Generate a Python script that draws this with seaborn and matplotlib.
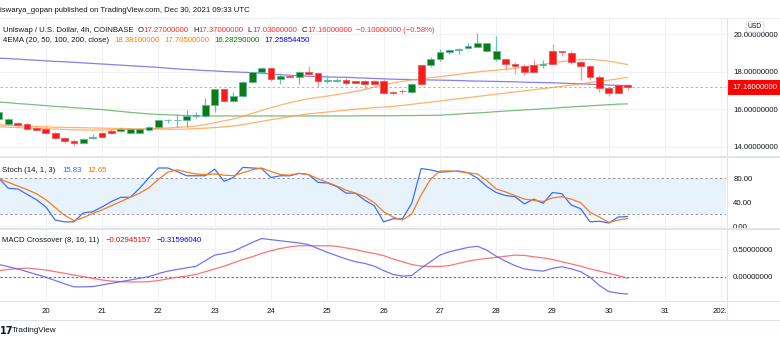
import numpy as np
import pandas as pd
import matplotlib
matplotlib.use("Agg")
import matplotlib.pyplot as plt
import matplotlib.dates as mdates
from matplotlib.lines import Line2D
from matplotlib.patches import Rectangle
from matplotlib.transforms import Bbox
import seaborn as sns

# ---------------- data ----------------
candle_times = pd.date_range("2021-12-19 04:00", periods=68, freq="4h")

open_ = [15.48, 15.21, 15.25, 15.21, 14.98, 14.96, 14.75, 14.48, 14.30, 14.18,
         14.45, 14.71, 14.85, 14.84, 14.75, 14.75, 14.89, 15.07, 15.40, 15.41,
         15.42, 15.63, 15.64, 16.22, 17.06, 16.45, 16.70, 17.47, 17.97, 18.18,
         17.59, 17.77, 17.73, 18.00, 17.91, 17.50, 17.50, 17.56, 17.49, 17.50,
         17.50, 17.52, 16.93, 16.98, 16.93, 18.36, 18.34, 18.66, 19.07, 19.16,
         19.25, 19.33, 19.10, 18.66, 18.66, 18.41, 18.30, 18.37, 18.38, 19.10,
         19.10, 19.01, 18.53, 18.30, 17.73, 17.15, 17.29, 17.27]
high = [15.95, 15.52, 15.32, 15.24, 15.08, 15.10, 14.80, 14.50, 14.39, 14.48,
        14.70, 14.78, 14.95, 15.05, 15.02, 14.98, 15.10, 15.45, 15.50, 15.75,
        15.96, 15.87, 16.58, 17.10, 17.10, 16.90, 17.50, 18.00, 18.25, 18.25,
        17.95, 17.80, 18.05, 18.32, 17.95, 17.80, 17.65, 17.65, 17.52, 17.56,
        17.58, 17.62, 16.98, 17.10, 17.40, 18.38, 18.80, 19.20, 19.20, 19.26,
        19.55, 20.05, 19.55, 19.90, 18.66, 18.52, 18.42, 18.70, 18.62, 19.50,
        19.13, 19.10, 18.55, 18.35, 17.85, 17.20, 17.34, 17.37]
low = [15.45, 15.18, 15.05, 14.90, 14.83, 14.72, 14.40, 14.20, 14.04, 14.15,
       14.40, 14.50, 14.68, 14.80, 14.70, 14.72, 14.85, 14.98, 15.28, 15.05,
       15.05, 15.52, 15.60, 15.85, 16.40, 16.40, 16.65, 17.40, 17.90, 17.52,
       17.35, 17.68, 17.35, 17.85, 17.20, 17.40, 17.45, 17.30, 17.38, 17.10,
       17.30, 16.80, 16.78, 16.80, 16.88, 17.30, 18.25, 18.55, 18.95, 18.95,
       19.22, 19.30, 19.05, 18.55, 18.09, 17.89, 17.82, 17.95, 18.20, 18.39,
       18.86, 18.40, 17.56, 17.56, 16.90, 16.72, 16.85, 17.03]
close = [15.87, 15.48, 15.15, 14.93, 14.91, 14.75, 14.48, 14.32, 14.18, 14.43,
         14.52, 14.53, 14.71, 14.94, 14.93, 14.93, 15.07, 15.42, 15.42, 15.43,
         15.64, 15.65, 16.22, 17.06, 16.45, 16.70, 17.47, 17.97, 18.18, 17.59,
         17.77, 17.72, 18.00, 17.89, 17.50, 17.52, 17.52, 17.41, 17.41, 17.36,
         17.36, 16.85, 16.85, 16.96, 17.34, 17.34, 18.66, 19.07, 19.16, 19.21,
         19.37, 19.51, 19.51, 19.12, 18.41, 18.30, 18.00, 18.00, 18.40, 18.39,
         19.03, 18.53, 18.30, 17.73, 17.15, 16.88, 16.88, 17.16]

ema20 = [15.06, 15.04, 15.02, 15.00, 14.98, 14.96, 14.94, 14.92, 14.90, 14.89,
         14.89, 14.89, 14.90, 14.91, 14.92, 14.93, 14.95, 14.98, 15.00, 15.03,
         15.06, 15.10, 15.18, 15.28, 15.38, 15.48, 15.62, 15.78, 15.93, 16.08,
         16.22, 16.35, 16.46, 16.56, 16.63, 16.70, 16.78, 16.86, 16.95, 17.05,
         17.18, 17.30, 17.40, 17.48, 17.56, 17.62, 17.68, 17.73, 17.80, 17.86,
         17.93, 17.99, 18.04, 18.08, 18.13, 18.19, 18.26, 18.33, 18.40, 18.47,
         18.54, 18.60, 18.65, 18.66, 18.62, 18.56, 18.47, 18.381]
ema50 = [15.16, 15.14, 15.12, 15.10, 15.08, 15.06, 15.04, 15.03, 15.02, 15.01,
         15.00, 14.99, 14.98, 14.97, 14.96, 14.95, 14.94, 14.94, 14.93, 14.93,
         14.94, 14.96, 14.99, 15.02, 15.06, 15.10, 15.18, 15.26, 15.35, 15.44,
         15.52, 15.60, 15.68, 15.75, 15.80, 15.85, 15.90, 15.95, 16.00, 16.04,
         16.08, 16.11, 16.15, 16.20, 16.26, 16.32, 16.38, 16.44, 16.50, 16.56,
         16.62, 16.68, 16.74, 16.80, 16.86, 16.92, 16.98, 17.04, 17.10, 17.16,
         17.22, 17.28, 17.34, 17.43, 17.49, 17.55, 17.62, 17.705]
ema100 = [16.38, 16.35, 16.30, 16.27, 16.23, 16.19, 16.15, 16.12, 16.08, 16.05,
          16.01, 15.98, 15.93, 15.88, 15.83, 15.79, 15.75, 15.72, 15.70, 15.68,
          15.66, 15.65, 15.64, 15.64, 15.64, 15.64, 15.64, 15.64, 15.64, 15.64,
          15.64, 15.64, 15.64, 15.64, 15.64, 15.64, 15.64, 15.64, 15.64, 15.65,
          15.65, 15.65, 15.65, 15.66, 15.66, 15.67, 15.67, 15.68, 15.71, 15.74,
          15.78, 15.80, 15.83, 15.87, 15.90, 15.93, 15.96, 15.99, 16.02, 16.05,
          16.09, 16.12, 16.15, 16.18, 16.21, 16.24, 16.27, 16.2829]
ema200 = [18.72, 18.70, 18.67, 18.64, 18.61, 18.58, 18.55, 18.53, 18.50, 18.47,
          18.44, 18.41, 18.38, 18.35, 18.32, 18.29, 18.26, 18.23, 18.19, 18.15,
          18.12, 18.09, 18.06, 18.04, 18.01, 17.99, 17.97, 17.95, 17.92, 17.88,
          17.84, 17.81, 17.78, 17.76, 17.74, 17.72, 17.71, 17.70, 17.68, 17.66,
          17.64, 17.62, 17.60, 17.59, 17.58, 17.57, 17.56, 17.55, 17.54, 17.53,
          17.51, 17.50, 17.49, 17.48, 17.47, 17.46, 17.44, 17.43, 17.42, 17.41,
          17.39, 17.37, 17.35, 17.33, 17.31, 17.29, 17.27, 17.2585]

stoch_k = [80, 63, 62, 53, 44, 32, 10, 7, 7, 22,
           24, 32, 41, 48, 48, 63, 81, 97, 97, 91,
           84, 84, 84, 95, 75, 81, 98, 97, 96, 81,
           84, 84, 88, 86, 73, 72, 66, 55, 55, 43,
           34, 7, 12, 12, 38, 96, 94, 90, 91, 92,
           89, 80, 66, 56, 51, 49, 37, 45, 38, 56,
           54, 35, 29, 7, 8, 5, 15, 15.83]
stoch_d = [79, 73, 67, 61, 54, 44, 31, 18, 9, 14,
           21, 27, 34, 41, 48, 55, 64, 78, 90, 94,
           90, 87, 86, 87, 85, 84, 89, 94, 97, 91,
           86, 85, 88, 86, 79, 73, 67, 60, 55, 49,
           39, 24, 15, 10, 20, 52, 78, 92, 92, 91,
           89, 87, 76, 62, 57, 51, 45, 43, 41, 47,
           49, 45, 39, 23, 15, 6, 10, 12.65]

macd_line = [0.22, 0.18, 0.14, 0.09, 0.04, -0.01, -0.07, -0.13, -0.185, -0.185,
             -0.18, -0.15, -0.12, -0.09, -0.06, -0.03, 0.00, 0.055, 0.10, 0.13,
             0.16, 0.185, 0.29, 0.39, 0.42, 0.46, 0.54, 0.62, 0.69, 0.67,
             0.65, 0.63, 0.61, 0.58, 0.51, 0.44, 0.38, 0.32, 0.27, 0.24,
             0.19, 0.11, 0.04, 0.01, 0.02, 0.155, 0.27, 0.39, 0.45, 0.49,
             0.53, 0.55, 0.48, 0.37, 0.28, 0.20, 0.14, 0.115, 0.10, 0.15,
             0.18, 0.14, 0.09, -0.01, -0.16, -0.27, -0.30, -0.316]
macd_signal = [0.11, 0.13, 0.145, 0.155, 0.14, 0.12, 0.09, 0.06, 0.03, 0.00,
               -0.03, -0.06, -0.08, -0.09, -0.095, -0.096, -0.09, -0.07, -0.04, -0.01,
               0.01, 0.04, 0.09, 0.14, 0.19, 0.25, 0.31, 0.36, 0.42, 0.47,
               0.51, 0.54, 0.56, 0.56, 0.56, 0.56, 0.55, 0.52, 0.49, 0.45,
               0.42, 0.38, 0.32, 0.27, 0.22, 0.19, 0.185, 0.185, 0.20, 0.24,
               0.28, 0.31, 0.33, 0.35, 0.37, 0.39, 0.385, 0.36, 0.34, 0.31,
               0.27, 0.23, 0.19, 0.14, 0.10, 0.06, 0.02, -0.029]

day_ticks = pd.date_range("2021-12-20", "2022-01-01", freq="D")
day_labels = ["20", "21", "22", "23", "24", "25", "26", "27", "28", "29", "30", "31", "2022"]
price_ticks = [14, 16, 18, 20]
stoch_ticks = [0, 40, 80]
macd_ticks = [0.0, 0.5]
last_price = 17.16

# ---------------- style ----------------
sns.set_style("white")
plt.rcParams["font.family"] = ["Liberation Sans", "DejaVu Sans"]
FS = 5.55
TXT = "#131722"

W, H = 780, 343
fig = plt.figure(figsize=(W / 100, H / 100), dpi=100)
fig.patch.set_facecolor("white")


def axes_px(x0, y0, x1, y1):
    return fig.add_axes([x0 / W, 1 - y1 / H, (x1 - x0) / W, (y1 - y0) / H])


def fx(x):
    return x / W


def fy(y):
    return 1 - y / H


RIGHT = 726
ax_p = axes_px(0, 18, RIGHT, 156)
ax_s = axes_px(0, 158, RIGHT, 228)
ax_m = axes_px(0, 230, RIGHT, 300)

xnum = mdates.date2num(candle_times.to_pydatetime())
day_num = mdates.date2num(day_ticks.to_pydatetime())
px_per_day = 56.3
x_left = day_num[0] - 45.8 / px_per_day
x_right = day_num[0] + (RIGHT - 45.8) / px_per_day

df = pd.DataFrame({"t": xnum, "open": open_, "high": high, "low": low, "close": close,
                   "ema20": ema20, "ema50": ema50, "ema100": ema100, "ema200": ema200,
                   "k": stoch_k, "d": stoch_d, "macd": macd_line, "signal": macd_signal})

for ax in (ax_p, ax_s, ax_m):
    ax.set_facecolor("white")
    for sp in ax.spines.values():
        sp.set_visible(False)
    ax.set_xlim(x_left, x_right)
    ax.set_xticks(day_num)
    ax.grid(True, color="#f0f2f6", lw=0.8)
    ax.set_axisbelow(True)
    ax.yaxis.set_ticks_position("right")
    ax.tick_params(axis="both", length=0, labelsize=FS, labelcolor=TXT)
    ax.tick_params(axis="y", pad=5.2, labelright=True, labelleft=False)
    ax.tick_params(axis="x", labelbottom=False)

# ---------------- price pane ----------------
ax_p.set_ylim(13.504, 20.864)
ax_p.set_yticks(price_ticks)
ax_p.set_yticklabels([f"{v:.8f}" for v in price_ticks])

sns.lineplot(data=df, x="t", y="ema200", ax=ax_p, color="#6b6bf2", lw=0.9, alpha=0.85, estimator=None)
sns.lineplot(data=df, x="t", y="ema100", ax=ax_p, color="#4fa84f", lw=0.9, alpha=0.75, estimator=None)
sns.lineplot(data=df, x="t", y="ema50", ax=ax_p, color="#ff9f43", lw=0.9, alpha=0.8, estimator=None)
sns.lineplot(data=df, x="t", y="ema20", ax=ax_p, color="#ffa04a", lw=0.9, alpha=0.8, estimator=None)
ax_p.set_xlabel("")
ax_p.set_ylabel("")

ax_p.axhline(last_price, color="#ff7b7b", lw=0.7, ls=(0, (2.5, 2.5)), alpha=0.8)

up = df["close"] >= df["open"]
body_lo = np.minimum(df["open"], df["close"])
body_h = np.maximum(np.abs(df["close"] - df["open"]), 0.035)
wick_col = np.where(up, "#66c2b4", "#f49a9a")
body_col = np.where(up, "#0b7d14", "#ff1a1a")
edge_col = np.where(up, "#5fb8a8", "#e85a5a")
ax_p.vlines(df["t"], df["low"], df["high"], colors=wick_col, lw=0.9, zorder=3)
ax_p.bar(df["t"], body_h, bottom=body_lo, width=(4 / 24) * 0.72,
         color=body_col, edgecolor=edge_col, linewidth=0.6, zorder=4)

# ---------------- stochastic pane ----------------
ax_s.set_ylim(-3.3, 113.7)
ax_s.set_yticks(stoch_ticks)
ax_s.set_yticklabels([f"{v:.2f}" for v in stoch_ticks])
ax_s.axhspan(20, 80, color="#e6f2fc", zorder=0.5, lw=0)
ax_s.axhline(80, color="#9598a1", lw=0.7, ls=(0, (2.5, 2.5)))
ax_s.axhline(20, color="#9598a1", lw=0.7, ls=(0, (2.5, 2.5)))
sns.lineplot(data=df, x="t", y="k", ax=ax_s, color="#3d6ff5", lw=0.9, estimator=None)
sns.lineplot(data=df, x="t", y="d", ax=ax_s, color="#f57c1f", lw=0.9, estimator=None)
ax_s.set_xlabel("")
ax_s.set_ylabel("")

# ---------------- MACD pane ----------------
ax_m.set_ylim(-0.423, 0.845)
ax_m.set_yticks(macd_ticks)
ax_m.set_yticklabels([f"{v:.8f}" for v in macd_ticks])
ax_m.axhline(0, color="#b03cc0", lw=0.8, ls=(0, (2, 2)))
sns.lineplot(data=df, x="t", y="signal", ax=ax_m, color="#ff5c5c", lw=0.9, alpha=0.85, estimator=None)
sns.lineplot(data=df, x="t", y="macd", ax=ax_m, color="#5c5cf5", lw=0.9, alpha=0.85, estimator=None)
ax_m.set_xlabel("")
ax_m.set_ylabel("")
ax_m.set_xticklabels(day_labels)
ax_m.tick_params(axis="x", labelbottom=True, pad=5.5)
clip = Bbox.from_extents(0, 0, RIGHT, H)
for tk in ax_m.xaxis.get_major_ticks():
    tk.label1.set_clip_box(clip)
    tk.label1.set_clip_on(True)

# ---------------- frame lines ----------------
def hline(y, x0=0, x1=W, color="#e0e3eb", lw=0.8):
    fig.add_artist(Line2D([fx(x0), fx(x1)], [fy(y), fy(y)], color=color, lw=lw))


def vline(x, y0, y1, color="#e0e3eb", lw=0.8):
    fig.add_artist(Line2D([fx(x), fx(x)], [fy(y0), fy(y1)], color=color, lw=lw))


hline(17.5, color="#eceef3")
hline(157, lw=1.4)
hline(229, lw=1.4)
hline(300.5)
hline(319.5)
vline(RIGHT + 0.5, 17.5, 319.5)

# ---------------- texts ----------------
renderer = fig.canvas.get_renderer()


def seq_text(x, y, parts, size=FS):
    for s, c, gap in parts:
        x += gap
        t = fig.text(fx(x), fy(y), s, color=c, fontsize=size, va="center", ha="left")
        bb = t.get_window_extent(renderer)
        x = bb.x1


fig.text(fx(0), fy(10), "iswarya_gopan published on TradingView.com, Dec 30, 2021 09:33 UTC",
         color=TXT, fontsize=FS, va="center", ha="left")

RED = "#ff2a2a"
seq_text(3, 30, [("Uniswap / U.S. Dollar, 4h, COINBASE", TXT, 0),
                 ("O", TXT, 4), ("17.27000000", RED, 0.3),
                 ("H", TXT, 4), ("17.37000000", RED, 0.3),
                 ("L", TXT, 4), ("17.03000000", RED, 0.3),
                 ("C", TXT, 4), ("17.16000000", RED, 0.3),
                 ("\u22120.10000000 (\u22120.58%)", RED, 4)])
seq_text(3, 41, [("4EMA (20, 50, 100, 200, close)", TXT, 0),
                 ("18.38100000", "#ff7f00", 5), ("17.70500000", "#ff7f00", 5),
                 ("16.28290000", "#007a00", 5), ("17.25854450", "#0000ff", 5)])
seq_text(2, 170, [("Stoch (14, 1, 3)", TXT, 0),
                  ("15.83", "#2962ff", 7), ("12.65", "#ff6d00", 6)])
seq_text(2, 240, [("MACD Crossover (8, 16, 11)", TXT, 0),
                  ("\u22120.02945157", "#ff0000", 6), ("\u22120.31596040", "#0000ff", 6)])

# last price tag
fig.add_artist(Rectangle((fx(RIGHT + 2), fy(95)), fx(W - RIGHT - 2), 15 / H,
                         facecolor="#ff0000", edgecolor="none"))
fig.text(fx(732), fy(87.5), f"{last_price:.8f}", color="white", fontsize=FS,
         va="center", ha="left")

# USD badge
fig.text(fx(755), fy(27), "USD", color=TXT, fontsize=FS - 0.7, va="center", ha="center",
         bbox=dict(boxstyle="round,pad=0.25,rounding_size=0.3", fc="white", ec="#d1d4dc", lw=0.6))

# footer
fig.text(fx(0), fy(331), "17", color=TXT, fontsize=7, fontweight="bold", va="center", ha="left",
         family="DejaVu Sans")
fig.text(fx(12), fy(331), "TradingView", color=TXT, fontsize=FS + 0.3, va="center", ha="left")

fig.savefig("out.png", dpi=100)
